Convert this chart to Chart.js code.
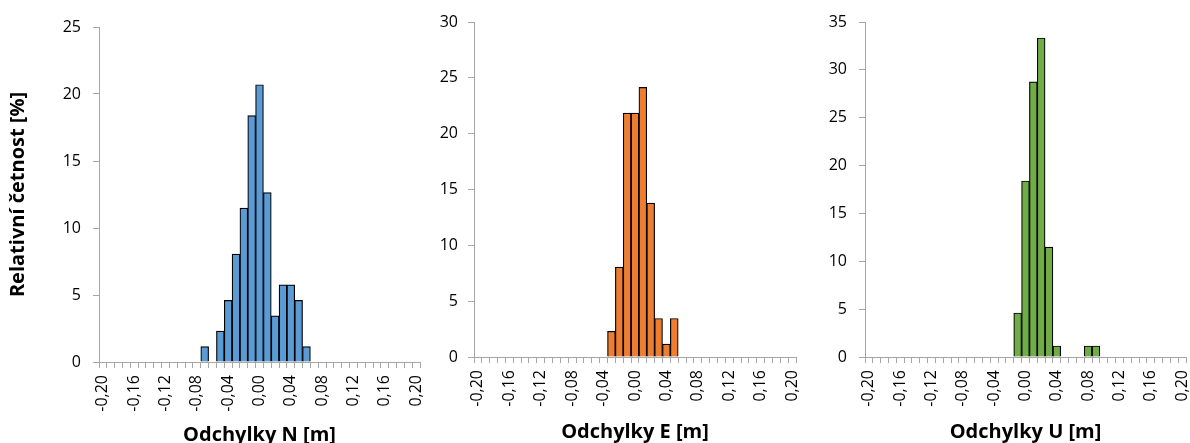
<!DOCTYPE html>
<html>
<head>
<meta charset="utf-8">
<script src="https://cdn.jsdelivr.net/npm/chart.js@4"></script>
<style>
html,body{margin:0;padding:0;background:#fff;}
body{width:1190px;height:443px;position:relative;overflow:hidden;}
.box{position:absolute;top:0;height:443px;}
</style>
</head>
<body>
<div class="box" style="left:0;width:430px"><canvas id="chN"></canvas></div>
<div class="box" style="left:430px;width:380px"><canvas id="chE"></canvas></div>
<div class="box" style="left:810px;width:380px"><canvas id="chU"></canvas></div>
<script>
// odchylky po 0,01 m
const kategorie=["-0,20","-0,19","-0,18","-0,17","-0,16","-0,15","-0,14","-0,13","-0,12","-0,11",
"-0,10","-0,09","-0,08","-0,07","-0,06","-0,05","-0,04","-0,03","-0,02","-0,01",
"0,00","0,01","0,02","0,03","0,04","0,05","0,06","0,07","0,08","0,09",
"0,10","0,11","0,12","0,13","0,14","0,15","0,16","0,17","0,18","0,19","0,20"];

// relativni cetnost [%]
const cetnostN=[0,0,0,0,0,0,0,0,0,0,
0,0,0,1.15,0,2.30,4.60,8.05,11.49,18.39,
20.69,12.64,3.45,5.75,5.75,4.60,1.15,0,0,0,
0,0,0,0,0,0,0,0,0,0,0];
const cetnostE=[0,0,0,0,0,0,0,0,0,0,
0,0,0,0,0,0,0,2.30,8.05,21.84,
21.84,24.14,13.79,3.45,1.15,3.45,0,0,0,0,
0,0,0,0,0,0,0,0,0,0,0];
const cetnostU=[0,0,0,0,0,0,0,0,0,0,
0,0,0,0,0,0,0,0,0,4.60,
18.39,28.74,33.33,11.49,1.15,0,0,0,1.15,1.15,
0,0,0,0,0,0,0,0,0,0,0];

const maxN=25, maxE=30, maxU=35;

const pismo="'Open Sans', sans-serif";
const seda="#A6A6A6";

function histogram(id,data,barva,titulX,maxY,nast){
new Chart(document.getElementById(id),{
type:"bar",
data:{
labels:kategorie,
datasets:[{data:data,backgroundColor:barva,borderColor:"#000",borderWidth:1.2,
barPercentage:1,categoryPercentage:1,borderSkipped:"start"}]
},
options:{
responsive:true,
maintainAspectRatio:false,
animation:false,
layout:{padding:{left:0,right:nast.right,top:nast.top,bottom:0}},
plugins:{legend:{display:false},tooltip:{enabled:false}},
scales:{
x:{
offset:true,
grid:{offset:true,drawOnChartArea:false,drawTicks:true,tickLength:6,color:seda},
border:{display:true,color:seda},
ticks:{autoSkip:false,minRotation:90,maxRotation:90,padding:7,color:"#000",
font:{family:pismo,size:16},
callback:(v,i)=>i%4===0?kategorie[i]:""},
title:{display:true,text:titulX,color:"#000",
font:{family:pismo,size:20,weight:"bold",lineHeight:1},
padding:{top:0,bottom:nast.titleBottom}},
afterFit:s=>{s.height=nast.xh;s.paddingLeft=0;s.paddingRight=0;}
},
y:{
min:0,max:maxY,
grid:{drawOnChartArea:false,drawTicks:true,tickLength:6,color:seda},
border:{display:true,color:seda},
ticks:{stepSize:5,padding:nast.yPad,color:"#000",font:{family:pismo,size:16}},
title:{display:nast.yTitle,text:"Relativní četnost [%]",color:"#000",
font:{family:pismo,size:20,weight:"bold",lineHeight:1.2},
padding:{top:6,bottom:0}},
afterFit:s=>{s.width=nast.yw;s.paddingTop=0;s.paddingBottom=0;}
}
}
}
});
}

histogram("chN",cetnostN,"#5B9BD5","Odchylky N [m]",maxN,{right:10,top:27,xh:81,yw:99,yTitle:true,titleBottom:-2,yPad:12});
histogram("chE",cetnostE,"#ED7D31","Odchylky E [m]",maxE,{right:14,top:22,xh:86,yw:44,yTitle:false,titleBottom:1,yPad:10});
histogram("chU",cetnostU,"#70AD47","Odchylky U [m]",maxU,{right:4,top:22,xh:86,yw:55,yTitle:false,titleBottom:1,yPad:12});
</script>
</body>
</html>
